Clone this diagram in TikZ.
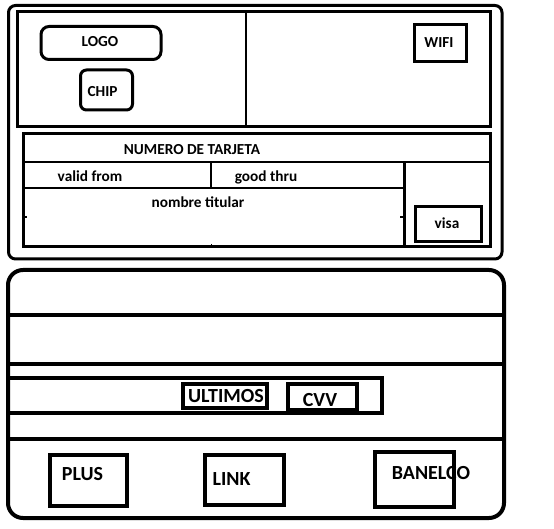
\documentclass[tikz,border=0pt]{standalone}
\usepackage{fontspec}
\setmainfont{Carlito}
\begin{document}
\begin{tikzpicture}[x=1pt,y=-1pt,
  small/.style={inner sep=0pt,font=\fontsize{15.3}{18}\selectfont\bfseries},
  big/.style={inner sep=0pt,font=\fontsize{20}{24}\selectfont\bfseries},
  box/.style={draw,line width=3pt,inner sep=0pt},
  thick3/.style={line width=3pt},
  thick4/.style={line width=4pt}]
\useasboundingbox (0,0) rectangle (554,529);
% ---------- front of card ----------
\draw[thick3,rounded corners=7pt] (8.5,5.5) rectangle (502,259);
\draw[thick3] (17,12) rectangle (490,127);
\draw[line width=2pt] (246,12) -- (246,127);
\node[box,rounded corners=8pt,minimum width=120pt,minimum height=33pt] (logobox) at (101,43) {};
\node[small] (logo) at (100,42) {LOGO};
\node[box,rounded corners=6pt,minimum width=52pt,minimum height=40pt] (chipbox) at (106.5,90) {};
\node[small] (chip) at (102.5,92) {CHIP};
\node[box,minimum width=52pt,minimum height=37pt] (wifibox) at (440,43.5) {};
\node[small] (wifi) at (439,42.5) {WIFI};
% data area
\draw[thick3] (23,134) rectangle (490,247);
\draw[line width=2.5pt] (23,162) -- (490,162);
\draw[line width=2.5pt] (23,188) -- (404,188);
\draw[line width=2.5pt] (211,162) -- (211,188);
\draw[thick3] (404,162) -- (404,247);
\draw[line width=2pt] (23,217) -- (27,217);
\draw[line width=2pt] (400,217) -- (404,217);
\draw[line width=1pt] (211,244) -- (211,246);
\node[small] (numero) at (192,150) {NUMERO DE TARJETA};
\node[small,anchor=base] (valid) at (90,182) {valid from};
\node[small,anchor=base] (good) at (266,182) {good thru};
\node[small,anchor=base] (nombre) at (198,208) {nombre titular};
\node[box,minimum width=66pt,minimum height=35pt] (visabox) at (448,224.5) {};
\node[small,anchor=base] (visa) at (447,229) {visa};
% ---------- back of card ----------
\draw[thick4,rounded corners=15pt] (8,270) rectangle (504,518);
\draw[thick4] (8,315) -- (504,315);
\draw[thick4] (8,364) -- (504,364);
\draw[thick4] (8,378) -- (382,378) -- (382,413) -- (8,413);
\draw[thick4] (8,439) -- (504,439);
\node[box,line width=4pt,minimum width=84pt,minimum height=24pt] (ultbox) at (225,396) {};
\node[big] (ult) at (226,396) {ULTIMOS};
\node[box,line width=4pt,minimum width=69pt,minimum height=26pt] (cvvbox) at (322,397) {};
\node[big] (cvv) at (320,400) {CVV};
\node[box,line width=4pt,minimum width=77pt,minimum height=51pt] (plusbox) at (88.5,480.5) {};
\node[big] (plus) at (82.5,474.5) {PLUS};
\node[box,line width=4pt,minimum width=79pt,minimum height=50pt] (linkbox) at (244.5,480) {};
\node[big] (link) at (231.5,479.5) {LINK};
\node[box,line width=4pt,minimum width=79pt,minimum height=55pt] (banbox) at (414.5,479.5) {};
\node[big] (banelco) at (431,473.5) {BANELCO};
\end{tikzpicture}
\end{document}
